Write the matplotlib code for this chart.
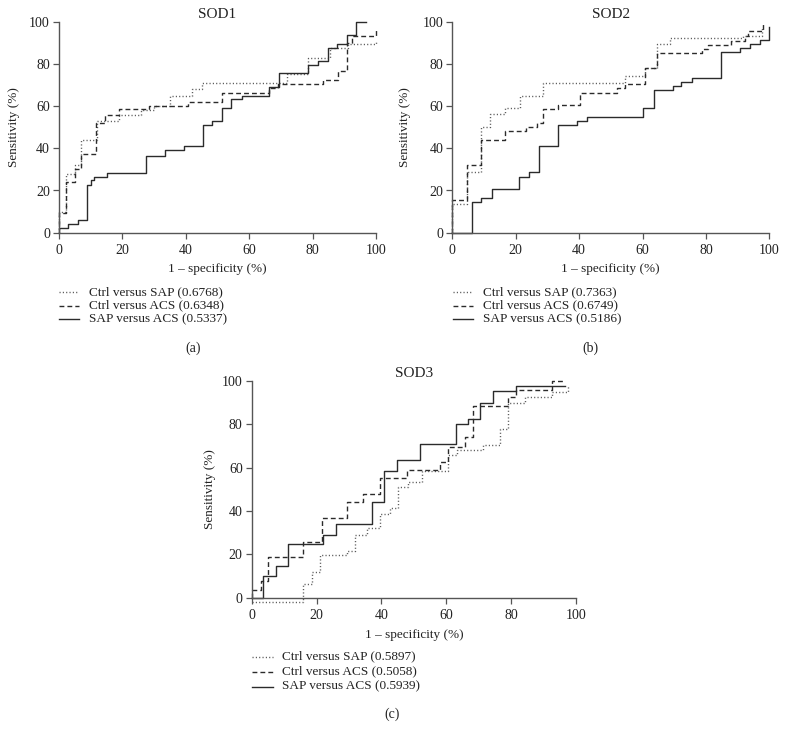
import matplotlib
matplotlib.use('Agg')
import matplotlib.pyplot as plt
from matplotlib.lines import Line2D

plt.rcParams['font.family'] = ['Liberation Serif', 'DejaVu Serif']

# ROC curves, values (1 - specificity %, sensitivity %)
# SOD1
sod1_sap_x = [0, 0, 2.3, 5, 7, 12, 19, 26, 30, 35, 42, 45, 72, 78.6, 85.5, 91.3, 100]
sod1_sap_y = [0, 10, 28, 32, 44, 53, 56, 58, 60, 65, 68, 71, 75, 83, 87.4, 89.4, 91]
sod1_acs_x = [0, 0, 2.3, 5, 7, 11.8, 14.4, 18.8, 28.5, 40.7, 51.3, 66.3, 69, 83.4, 88, 90.7, 92.3, 100, 100]
sod1_acs_y = [0, 9.5, 24, 30, 37.5, 52, 56, 58.5, 60, 62, 66.3, 68.5, 70.5, 72.5, 76.5, 90, 93, 93, 97]
sod1_sa_x = [0, 2.8, 6, 8.8, 10, 11, 15, 27.3, 33.4, 39.5, 45.5, 48.3, 51.5, 54.4, 57.6,
             66.3, 69.5, 78.6, 81.8, 85, 87.8, 90.7, 93.7, 96.7]
sod1_sa_y = [2, 4, 6, 22.5, 25, 26.5, 28.5, 36.5, 39, 41, 51, 53, 59, 63.3, 65,
             69, 75.5, 79.5, 81.5, 87.5, 89.5, 93.8, 100, 100]

# SOD2
sod2_sap_x = [0, 0, 4.5, 9.2, 11.9, 16.6, 21.3, 28.7, 54.5, 60.8, 64.5, 68.7, 91.8, 97.6]
sod2_sap_y = [0, 13.5, 29, 50, 56.4, 59, 65, 71, 74.5, 78, 89.5, 92.5, 93, 97]
sod2_acs_x = [0, 0, 4.5, 9.2, 16.6, 23.4, 26.6, 28.7, 33.4, 40.3, 51.8, 54.5, 60.8, 64.5,
              78.7, 80.8, 88, 92.3, 93.4, 97.9, 97.9]
sod2_acs_y = [0, 15.5, 32, 44, 48, 50, 52, 58.4, 60.5, 66.4, 68.5, 70.5, 78, 85,
              87, 89, 91, 93, 95.5, 95.5, 100]
sod2_sa_x = [0, 6.1, 9.2, 12.4, 21.1, 24.3, 27.3, 33.4, 39.2, 42.4, 60.3, 63.6, 69.5, 72.3,
             75.5, 84.8, 90.7, 93.9, 97, 100]
sod2_sa_y = [0, 14.4, 16.4, 20.5, 26.5, 28.6, 40.9, 51, 53, 55, 59, 67.5, 69.5, 71.5,
             73.5, 85.5, 87.5, 89.5, 91.5, 97.5]

# SOD3
sod3_sap_x = [0, 15.9, 18.5, 21, 29.3, 31.9, 35.4, 39.6, 42.7, 45.2, 48.3, 52.4, 60.6, 63.2,
              71.4, 76.6, 79.1, 84.3, 92.5, 97.5]
sod3_sap_y = [-2, 6.5, 11.7, 19.5, 21.5, 29, 32, 38.5, 41.2, 51, 53.5, 58.5, 66, 68,
              70.6, 77.7, 90, 92.5, 95, 97.5]
sod3_acs_x = [0, 0, 2.8, 5.1, 15.9, 21.6, 29.3, 34.4, 39.6, 47.8, 58, 60.6, 65.8, 68.3,
              79.1, 81.5, 92.5, 96.6]
sod3_acs_y = [0, 3.6, 7.6, 18.7, 25.8, 36.8, 44.3, 48, 55.4, 59, 62.7, 69.5, 74, 88.5,
              92.5, 96, 100, 100]
sod3_sa_x = [0, 3.6, 7.5, 11.3, 22.1, 26, 37, 40.9, 44.7, 51.9, 63, 66.8, 70.4, 74.3, 81.5, 96.6]
sod3_sa_y = [0, 9.8, 14.6, 24.6, 29, 34, 44, 58.5, 63.4, 70.8, 80.3, 82.5, 90, 95.3, 97.5, 97.5]

titles = ['SOD1', 'SOD2', 'SOD3']
panel_tags = ['(a)', '(b)', '(c)']
auc_sod1 = [0.6768, 0.6348, 0.5337]
auc_sod2 = [0.7363, 0.6749, 0.5186]
auc_sod3 = [0.5897, 0.5058, 0.5939]
comparisons = ['Ctrl versus SAP', 'Ctrl versus ACS', 'SAP versus ACS']

W, H = 786, 740
TXT_C = '#222222'
AX_C = '#555555'
line_colors = ['#555555', '#2b2b2b', '#2b2b2b']
styles = [(0, (0.8, 1.6)), (0, (3.5, 2.2)), '-']


def px_axes(fig, l, t, r, b):
    return fig.add_axes([l / W, 1 - b / H, (r - l) / W, (b - t) / H])


def draw_panel(fig, box, title, curves, aucs, tag, leg):
    l, t, r, b = box
    ax = px_axes(fig, l, t, r, b)
    for (xs, ys), ls, c in zip(curves, styles, line_colors):
        ax.plot(xs, ys, drawstyle='steps-post', color=c, lw=1.0,
                linestyle=ls, clip_on=False)
    ax.set_xlim(0, 100)
    ax.set_ylim(0, 100)
    ax.set_xticks(range(0, 101, 20))
    ax.set_yticks(range(0, 101, 20))
    for s in ['top', 'right']:
        ax.spines[s].set_visible(False)
    for s in ['left', 'bottom']:
        ax.spines[s].set_color(AX_C)
        ax.spines[s].set_linewidth(1.0)
    ax.tick_params(axis='both', direction='out', length=4.3, width=0.9,
                   color=AX_C, labelsize=10, labelcolor=TXT_C)
    ax.tick_params(axis='x', pad=4.0)
    ax.tick_params(axis='y', pad=2.2)
    ax.set_title(title, fontsize=11, pad=3.0, color=TXT_C)
    ax.set_ylabel('Sensitivity (%)', fontsize=9.5, va='center', color=TXT_C)
    ax.yaxis.set_label_coords((leg['ylab_x'] - l) / (r - l), 0.5)
    ax.set_xlabel('1 – specificity (%)', fontsize=9.5, va='center', color=TXT_C)
    ax.xaxis.set_label_coords(0.5, -(leg['xlab_y'] - b) / (b - t))

    # legend rows below the axis
    for i, (name, auc, ls, c) in enumerate(zip(comparisons, aucs, styles, line_colors)):
        y = 1 - leg['rows'][i] / H
        fig.add_artist(Line2D([leg['h0'] / W, leg['h1'] / W], [y, y], color=c,
                              lw=1.0, linestyle=ls, transform=fig.transFigure))
        fig.text(leg['tx'] / W, y, f'{name} ({auc:.4f})', fontsize=9.5,
                 va='center', ha='left', color=TXT_C)
    fig.text(leg['tag_x'] / W, 1 - leg['tag_y'] / H, tag, fontsize=10,
             ha='center', va='center', color=TXT_C)
    return ax


fig = plt.figure(figsize=(W / 100, H / 100), dpi=100)

draw_panel(fig, (59, 21.7, 376, 232.7), titles[0],
           [(sod1_sap_x, sod1_sap_y), (sod1_acs_x, sod1_acs_y), (sod1_sa_x, sod1_sa_y)],
           auc_sod1, panel_tags[0],
           dict(ylab_x=14, xlab_y=269.3, rows=[292.3, 305.7, 319], h0=59.3, h1=79.3,
                tx=89.3, tag_x=193.3, tag_y=348.3))

draw_panel(fig, (452.3, 21.7, 769.3, 232.7), titles[1],
           [(sod2_sap_x, sod2_sap_y), (sod2_acs_x, sod2_acs_y), (sod2_sa_x, sod2_sa_y)],
           auc_sod2, panel_tags[1],
           dict(ylab_x=405, xlab_y=269.3, rows=[292.3, 305.7, 319], h0=452.7, h1=472.7,
                tx=482.7, tag_x=590.7, tag_y=348.3))

draw_panel(fig, (251.7, 381, 576, 597.7), titles[2],
           [(sod3_sap_x, sod3_sap_y), (sod3_acs_x, sod3_acs_y), (sod3_sa_x, sod3_sa_y)],
           auc_sod3, panel_tags[2],
           dict(ylab_x=210, xlab_y=635, rows=[656.7, 671.7, 686.7], h0=251.7, h1=273.3,
                tx=281.7, tag_x=391.7, tag_y=714))

fig.savefig('out.png', dpi=100)
